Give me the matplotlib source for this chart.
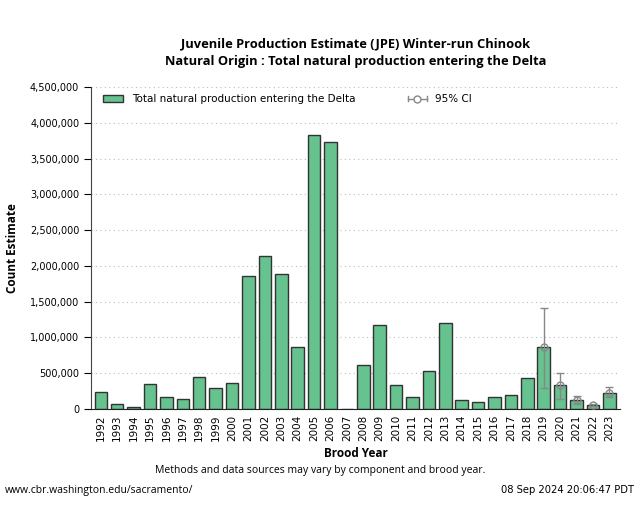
import numpy as np
import matplotlib
matplotlib.use('Agg')
import matplotlib.pyplot as plt
from matplotlib.ticker import FuncFormatter, MultipleLocator
from matplotlib.patches import Patch
from matplotlib.lines import Line2D
from matplotlib.legend_handler import HandlerBase

years = [str(y) for y in range(1992, 2024)]
estimate = [240000, 65000, 32000, 343000, 162000, 139000, 454000, 287000, 361000,
            1865000, 2135000, 1885000, 871000, 3824000, 3732000, 0, 621000, 1176000,
            329000, 162000, 532000, 1199000, 121000, 93000, 162000, 194000, 431000,
            860000, 330000, 120000, 55000, 230000]
# 95% confidence limits (only recent years have them)
ci_years = ['2019', '2020', '2021', '2022', '2023']
ci_lower = [300000, 140000, 75000, 35000, 170000]
ci_upper = [1415000, 510000, 185000, 70000, 310000]

bar_color = '#66c28e'
ci_color = '#888888'


class HandlerHorizCI(HandlerBase):
    # legend glyph drawn as |-o-|
    def create_artists(self, legend, orig_handle, xdescent, ydescent, width, height, fontsize, trans):
        y = height / 2 - ydescent
        x0, x1 = -xdescent, width - xdescent
        cap = height * 0.35
        arts = [
            Line2D([x0, x1], [y, y], color=ci_color, lw=1),
            Line2D([x0, x0], [y - cap, y + cap], color=ci_color, lw=1),
            Line2D([x1, x1], [y - cap, y + cap], color=ci_color, lw=1),
            Line2D([(x0 + x1) / 2], [y], marker='o', mfc='white', mec=ci_color, ms=5),
        ]
        for a in arts:
            a.set_transform(trans)
        return arts


fig = plt.figure(figsize=(6.4, 5.3), dpi=100)
ax = fig.add_axes([91 / 640, 1 - 409 / 530, (620 - 91) / 640, (409 - 87) / 530])

x = np.arange(len(years))
ax.bar(x, estimate, width=0.76, color=bar_color, edgecolor='#333333', linewidth=1.0, zorder=2)

ci_x = [years.index(y) for y in ci_years]
ci_mid = [estimate[i] for i in ci_x]
yerr = [np.array(ci_mid) - np.array(ci_lower), np.array(ci_upper) - np.array(ci_mid)]
eb = ax.errorbar(ci_x, ci_mid, yerr=yerr, fmt='o', mfc='none', mec=ci_color, ecolor=ci_color,
                 ms=5, capsize=3, elinewidth=1, capthick=1, zorder=3, label='95% CI')

ax.set_xlim(-0.6, len(years) - 0.35)
ax.set_ylim(0, 4500000)
ax.yaxis.set_major_locator(MultipleLocator(500000))
ax.yaxis.set_major_formatter(FuncFormatter(lambda v, p: f'{int(v):,}'))
ax.set_xticks(x)
ax.set_xticklabels(years, rotation=90)
ax.tick_params(axis='x', length=0, labelsize=7.5, pad=4)
ax.tick_params(axis='y', length=5, labelsize=7, direction='out')
ax.grid(axis='y', linestyle=(0, (1, 3)), color='#bbbbbb', linewidth=0.8, zorder=0)
ax.set_axisbelow(True)
for s in ['top', 'right']:
    ax.spines[s].set_visible(False)
ax.spines['left'].set_color('#444444')
ax.spines['bottom'].set_color('#222222')

ax.set_ylabel('Count Estimate', fontsize=8.5, fontweight='bold', family='Open Sans', labelpad=8)
ax.set_xlabel('Brood Year', fontsize=8.5, fontweight='bold', family='Open Sans', labelpad=4)

fig.text(0.556, 1 - 44 / 530, 'Juvenile Production Estimate (JPE) Winter-run Chinook',
         ha='center', va='center', fontsize=9.3, fontweight='bold', family='Open Sans')
fig.text(0.556, 1 - 62 / 530, 'Natural Origin : Total natural production entering the Delta',
         ha='center', va='center', fontsize=9.3, fontweight='bold', family='Open Sans')

h1 = Patch(facecolor=bar_color, edgecolor='#333333', label='Total natural production entering the Delta')
leg1 = ax.legend(handles=[h1], loc='upper left', bbox_to_anchor=(0.008, 1.0), frameon=False,
                 fontsize=7.5, handlelength=2.0, handleheight=0.7, borderaxespad=0.3)
ax.add_artist(leg1)
ax.legend(handles=[eb], loc='upper left', bbox_to_anchor=(0.585, 1.0), frameon=False,
          fontsize=7.5, handlelength=1.8, borderaxespad=0.3,
          handler_map={type(eb): HandlerHorizCI()})

fig.text(0.5, 1 - 470 / 530, 'Methods and data sources may vary by component and brood year.',
         ha='center', va='center', fontsize=7.5, family='Open Sans')
fig.text(5 / 640, 1 - 490 / 530, 'www.cbr.washington.edu/sacramento/',
         ha='left', va='center', fontsize=7.5, family='Open Sans')
fig.text(634 / 640, 1 - 490 / 530, '08 Sep 2024 20:06:47 PDT',
         ha='right', va='center', fontsize=7.2, family='DejaVu Sans')

fig.savefig('out.png', dpi=100)
